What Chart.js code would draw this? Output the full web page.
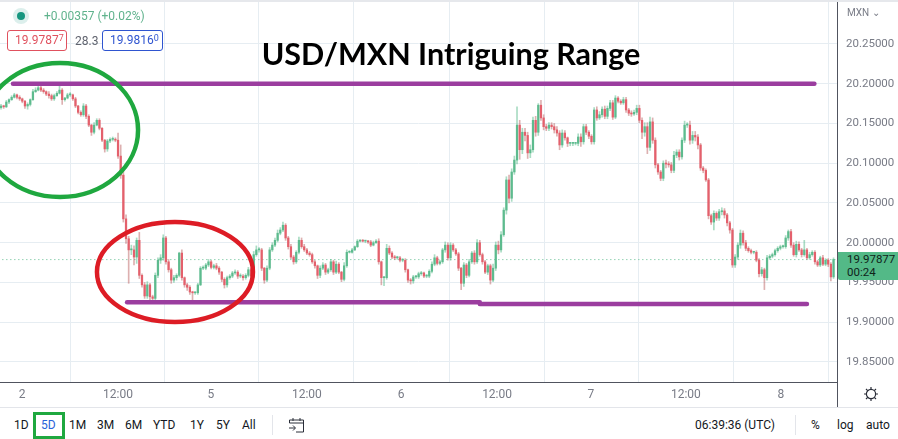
<!DOCTYPE html>
<html>
<head>
<meta charset="utf-8">
<title>USD/MXN Intriguing Range</title>
<script src="https://cdn.jsdelivr.net/npm/chart.js@4"></script>
<style>
html, body { margin: 0; padding: 0; background: #fff; overflow: hidden; }
#page { position: relative; width: 898px; height: 439px; font-family: Roboto, sans-serif; color: #131722; }
#topline { position: absolute; left: 0; top: 0; width: 898px; height: 2px; background: #e6e8ec; }
canvas { position: absolute; left: 0; top: 0; }
.txt { position: absolute; white-space: nowrap; }
.box { position: absolute; box-sizing: border-box; height: 21px; border-radius: 3px; border: 1px solid; font-size: 12px; line-height: 19px; padding-left: 7px; background: #fff; }
.box sup { font-size: 9px; line-height: 0; vertical-align: 3px; }
#title { left: 201px; width: 500px; top: 35px; text-align: center; font: bold 30.5px Lato, sans-serif; color: #000; }
#dot { position: absolute; left: 13px; top: 8px; width: 16px; height: 16px; border-radius: 50%; background: #dcefec; }
#dot i { position: absolute; left: 4px; top: 4px; width: 8px; height: 8px; border-radius: 50%; background: #16967f; }
#price { position: absolute; left: 838px; top: 252px; width: 60px; height: 28px; background: #53b987; border-radius: 0 0 0 2px; font-size: 11.5px; line-height: 13px; padding: 1px 0 0 9px; box-sizing: border-box; color: #10231a; }
#toolbar { position: absolute; left: 0; top: 407px; width: 898px; height: 32px; border-top: 1px solid #e3e5ea; box-sizing: border-box; font-size: 12px; }
#toolbar .txt { top: 10px; }
#fivebox { position: absolute; left: 33px; top: 4px; width: 32px; height: 27px; box-sizing: border-box; border: 3px solid #1fa83f; }
.sep { position: absolute; width: 1px; top: 7px; height: 20px; background: #e3e5ea; }
#axisdown { position: absolute; left: 837px; top: 380px; width: 1px; height: 27px; background: #50535e; }
svg { position: absolute; }
</style>
</head>
<body>
<div id="page">
  <canvas id="chart" width="898" height="407"></canvas>
  <div id="topline"></div>
  <div id="axisdown"></div>
  <div id="dot"><i></i></div>
  <div class="txt" style="left:44px;top:9px;font-size:12px;color:#5fb28c">+0.00357 (+0.02%)</div>
  <div class="box" style="left:7px;top:30px;width:60px;color:#e0515e;border-color:#e0515e">19.9787<sup>7</sup></div>
  <div class="txt" style="left:75px;top:34px;font-size:12px;color:#60636e">28.3</div>
  <div class="box" style="left:102px;top:30px;width:61px;color:#2f55d0;border-color:#2f55d0">19.9816<sup>0</sup></div>
  <div class="txt" id="title">USD/MXN Intriguing Range</div>
  <div class="txt" style="left:847px;top:7px;font-size:10px;color:#787b86">MXN ⌄</div>
  <div id="price">19.97877<br>00:24</div>
  <svg style="left:863px;top:386px" width="16" height="16" viewBox="0 0 16 16" fill="none" stroke="#2a2e39" stroke-width="1.2"><circle cx="8" cy="8" r="4.6"/><path d="M8 1v2.4M8 12.6V15M1 8h2.4M12.6 8H15M3 3l1.7 1.7M11.3 11.3L13 13M13 3l-1.7 1.7M4.7 11.3L3 13"/></svg>
  <div id="toolbar">
    <div class="txt" style="left:14px">1D</div>
    <div id="fivebox"></div>
    <div class="txt" style="left:41px;color:#2962d9">5D</div>
    <div class="txt" style="left:69px">1M</div>
    <div class="txt" style="left:97px">3M</div>
    <div class="txt" style="left:125px">6M</div>
    <div class="txt" style="left:153px">YTD</div>
    <div class="txt" style="left:190px">1Y</div>
    <div class="txt" style="left:216px">5Y</div>
    <div class="txt" style="left:242px">All</div>
    <div class="sep" style="left:272px"></div>
    <svg style="left:288px;top:9px" width="17" height="17" viewBox="0 0 17 17" fill="none" stroke="#2a2e39" stroke-width="1"><path d="M1.5 6V3h14v12H8M1.5 6h14M5 1v3M12 1v3M1 11h6M5 8.5L7.5 11 5 13.5"/></svg>
    <div class="txt" style="left:695px">06:39:36 (UTC)</div>
    <div class="sep" style="left:795px"></div>
    <div class="txt" style="left:811px">%</div>
    <div class="txt" style="left:837px">log</div>
    <div class="txt" style="left:866px">auto</div>
  </div>
</div>

<script>
// closes of each candle, the open is the close before it
const firstOpen = 20.170;
const closes = [
  20.172,20.171,20.177,20.180,20.183,20.186,20.183,20.181,20.178,20.172,
  20.174,20.180,20.190,20.192,20.195,20.192,20.190,20.187,20.185,20.181,
  20.185,20.188,20.192,20.180,20.182,20.186,20.186,20.181,20.172,20.164,
  20.161,20.172,20.159,20.148,20.139,20.148,20.154,20.144,20.129,20.118,
  20.128,20.130,20.130,20.129,20.109,20.085,20.030,20.005,19.991,19.991,
  19.982,20.003,19.959,19.947,19.933,19.947,19.932,19.930,19.959,19.978,
  19.981,20.006,19.976,19.966,19.953,19.956,19.959,19.987,19.956,19.947,
  19.944,19.938,19.937,19.937,19.947,19.968,19.968,19.972,19.976,19.969,
  19.971,19.968,19.963,19.954,19.947,19.956,19.958,19.962,19.963,19.958,
  19.958,19.956,19.959,19.966,19.958,19.985,19.991,19.991,19.968,19.953,
  19.968,19.991,19.997,20.003,20.012,20.016,20.022,20.006,19.995,19.982,
  19.976,19.988,20.003,19.995,19.991,19.987,19.985,19.976,19.971,19.959,
  19.968,19.972,19.963,19.966,19.976,19.963,19.973,19.963,19.954,19.971,
  19.988,19.988,19.991,19.995,20.002,20.003,20.002,20.002,20.001,19.997,
  20.000,20.002,19.976,19.956,19.956,19.993,19.987,19.982,19.981,19.981,
  19.978,19.978,19.966,19.953,19.952,19.957,19.957,19.961,19.962,19.958,
  19.958,19.964,19.973,19.981,19.974,19.976,19.991,19.997,19.981,19.997,
  19.991,19.986,19.968,19.949,19.972,19.959,19.976,19.987,19.976,20.000,
  19.985,19.976,19.963,19.971,19.953,19.968,19.997,19.991,20.010,20.041,
  20.079,20.056,20.089,20.104,20.148,20.117,20.139,20.135,20.113,20.117,
  20.154,20.139,20.173,20.157,20.146,20.144,20.148,20.146,20.142,20.138,
  20.123,20.138,20.132,20.125,20.125,20.125,20.125,20.133,20.127,20.146,
  20.139,20.134,20.127,20.167,20.157,20.161,20.168,20.159,20.169,20.176,
  20.158,20.182,20.178,20.176,20.180,20.167,20.163,20.162,20.164,20.169,
  20.154,20.139,20.146,20.120,20.152,20.129,20.098,20.089,20.081,20.100,
  20.099,20.098,20.091,20.110,20.114,20.108,20.129,20.148,20.148,20.129,
  20.135,20.133,20.123,20.094,20.091,20.079,20.034,20.026,20.037,20.031,
  20.039,20.040,20.035,20.025,20.016,19.972,19.982,19.997,20.012,20.000,
  19.993,19.990,19.988,19.988,19.978,19.961,19.966,19.956,19.981,19.983,
  19.985,19.990,19.993,19.995,19.995,20.006,20.014,19.997,19.985,19.998,
  19.991,19.985,19.991,19.981,19.985,19.988,19.976,19.972,19.981,19.973,
  19.978,19.973,19.957,19.979
];

// wick length above and below each body, in thousandths
const wickUp = [
  2,1,2,1,2,2,1,2,1,1, 2,1,3,3,4,2,2,1,3,2, 2,2,7,2,1,2,3,1,2,1, 2,3,2,2,1,3,2,2,1,1,
  2,2,3,2,9,14,10,5,3,6, 5,3,10,2,3,4,2,2,3,3, 4,4,2,3,2,3,2,1,4,1, 2,2,1,1,2,2,3,2,3,2,
  2,3,2,1,2,2,2,2,3,2, 3,2,2,3,2,4,5,3,2,1, 3,3,3,3,4,3,4,2,2,3, 2,2,4,3,3,2,2,2,2,1,
  3,3,2,2,3,2,4,2,1,4, 3,2,2,1,2,1,1,1,1,2, 2,2,3,1,1,5,3,2,2,2, 2,2,2,1,2,2,2,2,2,1,
  2,2,3,4,2,2,2,4,3,3, 2,2,2,1,3,2,3,2,3,4, 3,2,2,2,2,5,4,5,4,3, 4,6,4,5,23,6,5,5,4,6,
  4,5,2,6,4,3,3,3,4,4, 3,4,3,1,1,1,1,4,4,3, 3,2,2,3,4,4,3,4,3,3, 3,3,2,2,3,3,2,3,3,4,
  4,3,5,5,6,5,3,2,2,3, 4,3,3,5,3,3,3,5,3,5, 5,5,3,2,2,2,2,2,3,2, 3,4,3,2,2,2,3,3,4,3,
  3,2,2,1,2,2,3,2,3,2, 2,2,2,2,2,3,2,3,3,4, 3,2,12,2,3,2,2,2,2,3, 2,2,2,2
];
const wickDown = [
  2,2,1,2,1,1,2,2,2,3, 4,2,1,1,1,2,2,2,3,2, 2,1,1,6,2,1,2,2,2,2, 2,2,3,2,4,2,1,2,2,4,
  3,2,2,2,3,4,4,6,42,6, 10,8,4,3,3,3,5,3,2,3, 4,3,3,3,4,3,3,2,3,3, 4,3,12,2,2,1,2,2,2,2,
  2,2,3,3,4,3,2,2,2,3, 2,3,2,2,2,2,2,3,3,4, 2,2,2,2,2,2,2,3,3,2, 3,2,2,2,2,2,2,2,3,4,
  3,2,3,2,2,3,2,2,3,2, 2,1,1,1,1,1,1,2,2,2, 1,1,3,9,10,2,2,2,2,2, 2,2,3,3,4,3,2,2,2,2,
  2,2,2,2,2,2,2,3,3,3, 2,2,3,8,4,3,2,2,3,2, 2,3,2,3,5,2,3,5,3,2, 5,6,4,3,5,12,5,7,7,6,
  3,5,4,3,4,3,3,3,4,4, 6,3,3,4,3,3,2,3,6,3, 3,3,3,3,3,2,3,3,3,3, 3,2,2,2,2,3,3,3,2,3,
  3,8,5,8,4,4,4,3,3,3, 5,3,3,3,3,4,3,3,3,5, 4,5,5,3,3,2,4,3,10,3, 3,4,4,4,4,3,3,3,4,3,
  3,2,2,2,2,4,3,15,3,2, 2,2,2,2,2,2,3,3,2,3, 2,3,2,2,2,2,3,2,2,2, 2,3,5,2
];

const priceTicks = [19.85, 19.90, 19.95, 20.00, 20.05, 20.10, 20.15, 20.20, 20.25];
// where the time labels sit, counted in candles
const timeTicks = [7.9, 44, 78.9, 115, 150.4, 186.5, 221.8, 257.5, 293.2];
const timeLabels = ['2', '12:00', '5', '12:00', '6', '12:00', '7', '12:00', '8'];
const lastPrice = 19.97877;
const upColor = '#5dbb8e';
const downColor = '#e4606c';

const bodies = [], wicks = [], bodyColors = [], wickColors = [];
closes.forEach((close, i) => {
  const open = i === 0 ? firstOpen : closes[i - 1];
  const top = Math.max(open, close), bottom = Math.min(open, close);
  bodies.push({ x: i, y: [open, close] });
  wicks.push({ x: i, y: [bottom - wickDown[i] / 1000, top + wickUp[i] / 1000] });
  bodyColors.push(close >= open ? upColor : downColor);
  wickColors.push(close >= open ? 'rgba(83,185,135,0.5)' : 'rgba(180,80,80,0.45)');
});

// the hand drawn circles
const circlesPlugin = {
  id: 'circles',
  afterDatasetsDraw(chart) {
    const x = chart.scales.x, y = chart.scales.y, ctx = chart.ctx;
    const circles = [
      { i: 22.2, price: 20.1418, rx: 78, ry: 67, color: '#1fa83f' },
      { i: 65.4, price: 19.9632, rx: 78, ry: 50, color: '#dd1c25' }
    ];
    ctx.save();
    circles.forEach(c => {
      ctx.beginPath();
      ctx.ellipse(x.getPixelForValue(c.i), y.getPixelForValue(c.price), c.rx, c.ry, 0, 0, Math.PI * 2);
      ctx.lineWidth = 4.5;
      ctx.strokeStyle = c.color;
      ctx.stroke();
    });
    ctx.restore();
  }
};

function levelLine(points, color, width) {
  return {
    type: 'line',
    data: points,
    borderColor: color,
    borderWidth: width,
    borderCapStyle: 'round',
    pointRadius: 0,
    order: 0
  };
}

new Chart(document.getElementById('chart'), {
  type: 'bar',
  data: {
    datasets: [
      levelLine([{ x: 4.5, y: 20.2 }, { x: 305.8, y: 20.2 }], '#9b3d9f', 4.5),
      levelLine([{ x: 47.4, y: 19.925 }, { x: 180, y: 19.925 }], '#9b3d9f', 4.5),
      levelLine([{ x: 180, y: 19.923 }, { x: 303, y: 19.923 }], '#9b3d9f', 4.5),
      { type: 'bar', data: bodies, backgroundColor: bodyColors, barThickness: 1.6, minBarLength: 1, grouped: false, order: 1 },
      { type: 'bar', data: wicks, backgroundColor: wickColors, barThickness: 1, grouped: false, order: 2 },
      {
        type: 'line',
        data: [{ x: -1, y: lastPrice }, { x: 320, y: lastPrice }],
        borderColor: upColor,
        borderWidth: 1,
        borderDash: [1, 3],
        pointRadius: 0,
        order: 3
      }
    ]
  },
  options: {
    responsive: false,
    animation: false,
    events: [],
    layout: { padding: 0 },
    plugins: { legend: { display: false }, tooltip: { enabled: false } },
    scales: {
      x: {
        type: 'linear',
        offset: false,
        min: -0.38,
        max: 314.3,
        afterBuildTicks: s => { s.ticks = timeTicks.map(v => ({ value: v })); },
        afterFit: s => { s.height = 25; s.paddingLeft = 0; s.paddingRight = 0; },
        grid: { color: '#e6edf2', drawTicks: false },
        border: { color: '#50535e' },
        ticks: {
          autoSkip: false,
          maxRotation: 0,
          padding: 6,
          color: '#787b86',
          font: { family: 'Roboto', size: 12 },
          callback: (v) => timeLabels[timeTicks.indexOf(v)]
        }
      },
      y: {
        position: 'right',
        min: 19.8248,
        max: 20.30535,
        afterBuildTicks: s => { s.ticks = priceTicks.map(v => ({ value: v })); },
        afterFit: s => { s.width = 61; s.paddingTop = 0; s.paddingBottom = 0; },
        grid: { color: '#e6edf2', drawTicks: false },
        border: { color: '#50535e' },
        ticks: {
          padding: 9,
          color: '#787b86',
          font: { family: 'Roboto', size: 11.5 },
          callback: v => v.toFixed(5)
        }
      }
    }
  },
  plugins: [circlesPlugin]
});
</script>
</body>
</html>
